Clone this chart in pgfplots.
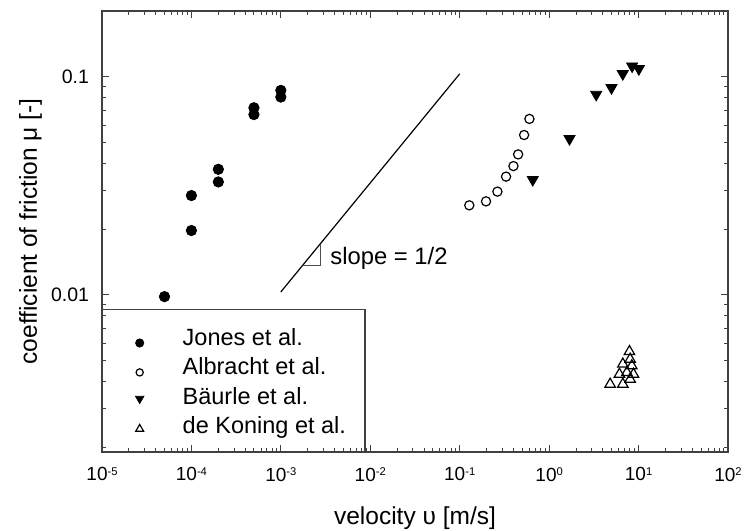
\documentclass[border=0pt]{standalone}
\usepackage{pgfplots}
\pgfplotsset{compat=1.18}
\usepackage{fontspec}
\setmainfont{Liberation Sans}
\newcommand{\tp}[1]{10\raisebox{2.8bp}{\fontsize{5.6bp}{6bp}\selectfont #1}}
\pgfplotsset{myleg/.style 2 args={legend image code/.code={\path[draw=none,fill=none] (-5bp,0bp) -- (5bp,0bp); \draw[##1, mark size=#1] plot coordinates {(0bp,#2)};}}}
\begin{document}
\begin{tikzpicture}
\begin{axis}[
  name=ax,
  xmode=log, ymode=log,
  scale only axis, width=313bp, height=220.5bp,
  xmin=1e-5, xmax=1e2, ymin=0.0019, ymax=0.2,
  clip=false,
  xtick={1e-5,1e-4,1e-3,1e-2,1e-1,1e0,1e1,1e2},
  xticklabels={\tp{-5},\tp{-4},\tp{-3},\tp{-2},\tp{-1},\tp{0},\tp{1},\tp{2}},
  ytick={0.01,0.1}, yticklabels={0.01,0.1},
  minor ytick={0.002,0.003,0.004,0.005,0.006,0.007,0.008,0.009,0.02,0.03,0.04,0.05,0.06,0.07,0.08,0.09,0.2},
  tick align=inside,
  major tick length=3.5bp, minor tick length=2bp,
  tick style={black!75, line width=0.5bp},
  axis line style={black!75, line width=0.6bp},
  xticklabel style={font=\fontsize{9.5bp}{11bp}\selectfont, inner sep=0pt, anchor=north, yshift=-7.6bp},
  yticklabel style={font=\fontsize{9.75bp}{11bp}\selectfont, inner sep=0pt, anchor=east, xshift=-6.3bp},
  xlabel={velocity υ [m/s]},
  ylabel={coefficient of friction μ [-]},
  xlabel style={at={([yshift=-36.25bp]axis description cs:0.5,0)}, anchor=base, font=\fontsize{12.25bp}{14bp}\selectfont},
  ylabel style={at={([xshift=-32.5bp]axis description cs:0,0.5)}, anchor=base, font=\fontsize{12.25bp}{14bp}\selectfont},
  legend cell align=left,
  legend style={draw=none, fill=none, at={(0,0)}, anchor=north west, xshift=13.65bp, yshift=62.5bp,
    inner xsep=0pt, inner ysep=0pt, row sep=0pt, column sep=16.5bp,
    nodes={inner sep=0pt, text height=9bp, text depth=5.7bp},
    font=\fontsize{11.75bp}{14bp}\selectfont},
]
\addplot[black, line width=0.6bp, forget plot] coordinates {(0.001,0.0103) (0.1,0.103)};
\addplot[black!70, line width=0.4bp, forget plot] coordinates {(0.00175,0.01363) (0.00275,0.01363) (0.00275,0.01708)};
\node[anchor=base west, inner sep=0pt, font=\fontsize{11.9bp}{14bp}\selectfont] at (axis cs:0.00355,0.01377) {slope = 1/2};

\addplot[only marks, mark=*, mark size=2.6bp, black, myleg={2.05bp}{-0.45bp}]
  coordinates {(5e-5,0.0098) (1e-4,0.0197) (1e-4,0.0285) (2e-4,0.0329) (2e-4,0.0376) (5e-4,0.067) (5e-4,0.072) (1e-3,0.0806) (1e-3,0.0865)};
\addlegendentry{Jones et al.}

\addplot[only marks, mark=o, mark size=2.3bp, black, mark options={line width=0.6bp, fill=white}, myleg={1.8bp}{-0.45bp}]
  coordinates {(0.128,0.0257) (0.197,0.0268) (0.264,0.0297) (0.330,0.0348) (0.399,0.0389) (0.450,0.044) (0.525,0.054) (0.602,0.064)};
\addlegendentry{Albracht et al.}

\addplot[only marks, mark=triangle*, mark size=3.2bp, black, mark options={rotate=180}, myleg={2.4bp}{1.1bp}]
  coordinates {(0.656,0.0337) (1.69,0.0519) (3.36,0.0828) (4.98,0.0889) (6.66,0.103) (8.47,0.1117) (10.07,0.1086)};
\addlegendentry{Bäurle et al.}

\addplot[only marks, mark=triangle, mark size=3bp, black, mark options={line width=0.6bp, fill=white}, myleg={2.3bp}{0.65bp}]
  coordinates {(4.81,0.00389) (6.67,0.00389) (6.11,0.00432) (7.40,0.00440) (8.05,0.00410) (8.77,0.00432) (6.67,0.00481) (8.41,0.00472) (8.05,0.00506) (7.91,0.00549)};
\addlegendentry{de Koning et al.}

\draw[black!75, line width=0.6bp] (rel axis cs:0,0) rectangle ++(131.5bp,71.35bp);
\end{axis}
\pgfresetboundingbox
\path[use as bounding box] ([shift={(-51bp,-39.5bp)}]ax.south west) rectangle ([shift={(9bp,5.5bp)}]ax.north east);
\end{tikzpicture}
\end{document}
